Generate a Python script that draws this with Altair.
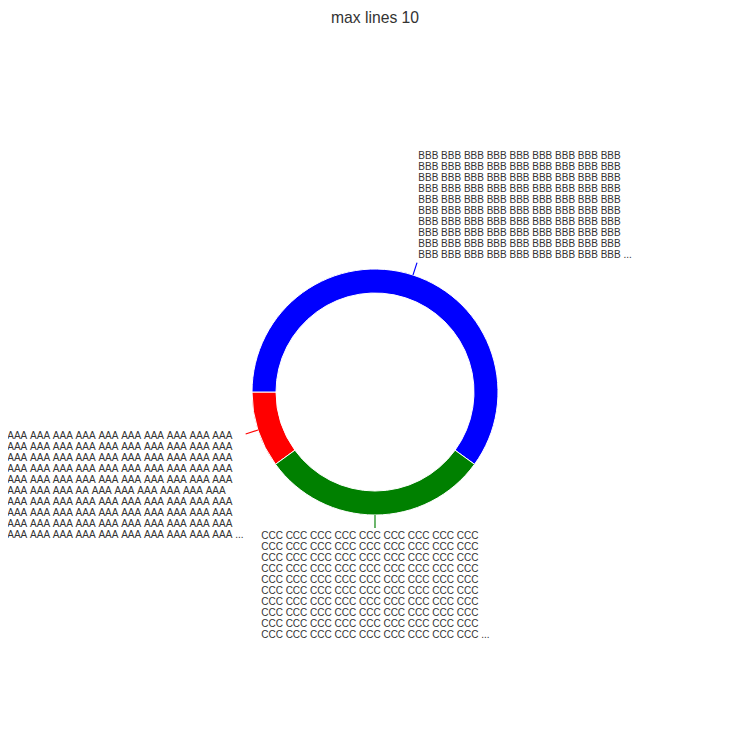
import math
import altair as alt
import pandas as pd

# ---- data ----
categories = ["AAA", "BBB", "CCC"]
values = [10, 60, 30]
draw_order = [3, 1, 2]          # clockwise from 9 o'clock: BBB, CCC, AAA
colors = ["#ff0000", "#0000ff", "#008000"]

full_a = "AAA AAA AAA AAA AAA AAA AAA AAA AAA AAA"
aaa_lines = [
    full_a, full_a, full_a, full_a, full_a,
    "AAA AAA AAA AA AAA AAA AAA AAA AAA AAA",
    full_a, full_a, full_a,
    full_a + " ...",
]
full_b = "BBB BBB BBB BBB BBB BBB BBB BBB BBB"
bbb_lines = [full_b] * 9 + [full_b + " ..."]
full_c = "CCC CCC CCC CCC CCC CCC CCC CCC CCC"
ccc_lines = [full_c] * 9 + [full_c + " ..."]

# non-breaking spaces keep the word spacing un-kerned, as in the reference
labels = ["\n".join(l).replace(" ", "\u00a0") for l in (aaa_lines, bbb_lines, ccc_lines)]

df = pd.DataFrame({"cat": categories, "value": values, "ord": draw_order, "label": labels})

theta_scale = alt.Scale(domain=[0, 1], range=[1.5 * math.pi, 3.5 * math.pi])
color_scale = alt.Scale(domain=categories, range=colors)
color_enc = alt.Color("cat:N", scale=color_scale, legend=None)

base = (
    alt.Chart(df)
    .transform_joinaggregate(total="sum(value)")
    .transform_window(cum="sum(value)", sort=[alt.SortField("ord")], frame=[None, 0])
    .transform_calculate(
        start="(datum.cum - datum.value) / datum.total",
        end="datum.cum / datum.total",
        mid="(datum.cum - datum.value / 2) / datum.total",
    )
    .transform_calculate(l0="datum.mid - 0.0007", l1="datum.mid + 0.0007")
)

arcs = base.mark_arc(innerRadius=99, outerRadius=123, stroke="white", strokeWidth=1).encode(
    theta=alt.Theta("start:Q", scale=theta_scale, stack=None),
    theta2=alt.Theta2("end:Q"),
    color=color_enc,
)

lines = base.mark_arc(radius=136, radius2=123).encode(
    theta=alt.Theta("l0:Q", scale=theta_scale, stack=None),
    theta2=alt.Theta2("l1:Q"),
    color=color_enc,
)

txt_style = dict(radius=136, align="left", baseline="top", lineBreak="\n", fontSize=10,
                 lineHeight=11, font="Liberation Sans", color="#333333")


def label_layer(cat, dx, dy):
    return (
        base.transform_filter(alt.datum.cat == cat)
        .mark_text(dx=dx, dy=dy, **txt_style)
        .encode(theta=alt.Theta("mid:Q", scale=theta_scale, stack=None), text="label:N")
    )


tA = label_layer("AAA", -238.4, -3)
tB = label_layer("BBB", 1.3, -112)
tC = label_layer("CCC", -113.8, 2.7)

chart = (
    alt.layer(arcs, lines, tA, tB, tC)
    .properties(
        width=734,
        height=700,
        title=alt.TitleParams("max lines 10", fontSize=15.7, fontWeight="normal",
                              color="#333333", font="Liberation Sans", offset=15),
        padding={"top": 34, "left": 0, "right": 0, "bottom": 0},
        autosize=alt.AutoSizeParams(type="none"),
    )
    .configure_view(stroke=None)
)

chart.save("out.html", embed_options={"renderer": "svg", "actions": False})
